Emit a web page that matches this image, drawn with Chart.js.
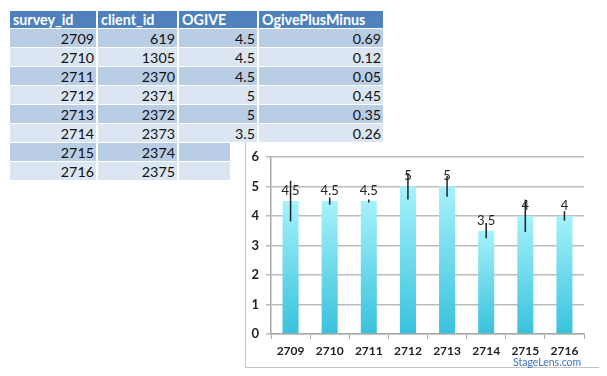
<!DOCTYPE html>
<html>
<head>
<meta charset="utf-8">
<script src="https://cdn.jsdelivr.net/npm/chart.js@4"></script>
<style>
  body { margin: 0; width: 607px; height: 376px; background: #fff; position: relative; overflow: hidden; font-family: Lato, "Open Sans", sans-serif; }
  #tbl { position: absolute; left: 8px; top: 10.4px; border-collapse: separate; border-spacing: 2px 1.6px; font-size: 14.3px; table-layout: fixed; width: 377px; }
  #tbl td, #tbl th { box-sizing: border-box; padding: 0 2px 0 3px; height: 17px; line-height: 17px; overflow: hidden; white-space: nowrap; }
  #tbl td { height: 17px; }
  #tbl th { background: #4f81bd; color: #fff; text-align: left; font-weight: bold; }
  #tbl td { text-align: right; color: #111; }
  #tbl tbody tr { height: 17px; }
  #tbl tbody td { height: 17px; padding-top: 0.5px; padding-bottom: 0.5px; }
  #tbl tr.d td { background: #b9cde5; }
  #tbl tr.l td { background: #dce6f2; }
  #box { position: absolute; left: 230px; top: 142px; width: 377px; height: 234px; background: #fff; }
  #frame { position: absolute; left: 15px; top: 0; width: 353px; height: 225px; border-left: 1px solid #c4c4c4; border-bottom: 1px solid #c4c4c4; }
  #cv { position: absolute; left: 0; top: 0; }
  #brand { position: absolute; left: 283px; top: 214px; font-size: 10.5px; color: #3f72c8; }
  #frag { position: absolute; left: 385px; top: -23px; font-size: 22px; line-height: 24px; color: #000; }
</style>
</head>
<body>
<div id="frag">(</div>
<table id="tbl">
  <thead><tr><th style="width:86px">survey_id</th><th style="width:79px">client_id</th><th style="width:78px">OGIVE</th><th style="width:124px">OgivePlusMinus</th></tr></thead>
  <tbody id="tb"></tbody>
</table>
<div id="box">
  <div id="frame"></div>
  <canvas id="cv" width="377" height="234"></canvas>
  <div id="brand">StageLens.com</div>
</div>
<script>
var surveyIds = ["2709", "2710", "2711", "2712", "2713", "2714", "2715", "2716"];
var clientIds = [619, 1305, 2370, 2371, 2372, 2373, 2374, 2375];
var ogive = [4.5, 4.5, 4.5, 5, 5, 3.5, 4, 4];
var plusMinus = [0.69, 0.12, 0.05, 0.45, 0.35, 0.26, 0.55, 0.16];
var tableOgive = ["4.5", "4.5", "4.5", "5", "5", "3.5", "", ""];
var tablePlusMinus = ["0.69", "0.12", "0.05", "0.45", "0.35", "0.26", "", ""];
var yTicks = [0, 1, 2, 3, 4, 5, 6];

// table
var tb = document.getElementById("tb");
for (var i = 0; i < surveyIds.length; i++) {
  var tr = document.createElement("tr");
  tr.className = (i % 2 == 0) ? "d" : "l";
  tr.innerHTML = "<td>" + surveyIds[i] + "</td><td>" + clientIds[i] + "</td><td>" +
    tableOgive[i] + "</td><td>" + tablePlusMinus[i] + "</td>";
  tb.appendChild(tr);
}

var errBars = {
  id: "errBars",
  afterDatasetsDraw: function (chart) {
    var ctx = chart.ctx;
    var y = chart.scales.y;
    var meta = chart.getDatasetMeta(0);
    ctx.save();
    ctx.font = "13px Lato, sans-serif";
    ctx.fillStyle = "#222";
    ctx.textAlign = "center";
    ctx.textBaseline = "alphabetic";
    meta.data.forEach(function (bar, i) {
      ctx.fillText(String(ogive[i]), bar.x, y.getPixelForValue(ogive[i]) - 6);
    });
    ctx.strokeStyle = "#222";
    ctx.lineWidth = 1.5;
    meta.data.forEach(function (bar, i) {
      ctx.beginPath();
      ctx.moveTo(bar.x, y.getPixelForValue(ogive[i] + plusMinus[i]));
      ctx.lineTo(bar.x, y.getPixelForValue(ogive[i] - plusMinus[i]));
      ctx.stroke();
    });
    ctx.restore();
  }
};

function barFill(context) {
  var chart = context.chart;
  var y = chart.scales.y;
  if (!chart.chartArea || !y) return "#6fd9ec";
  var v = ogive[context.dataIndex];
  var g = chart.ctx.createLinearGradient(0, y.getPixelForValue(v), 0, y.getPixelForValue(0));
  g.addColorStop(0, "#a6f2fb");
  g.addColorStop(1, "#38c2dc");
  return g;
}

new Chart(document.getElementById("cv"), {
  type: "bar",
  data: {
    labels: surveyIds,
    datasets: [{
      label: "OGIVE",
      data: ogive,
      backgroundColor: barFill,
      borderWidth: 0,
      barPercentage: 0.41,
      categoryPercentage: 1
    }]
  },
  options: {
    responsive: false,
    animation: false,
    layout: { padding: { left: 0, right: 23, top: 14, bottom: 0 } },
    plugins: { legend: { display: false }, tooltip: { enabled: false } },
    scales: {
      x: {
        grid: { offset: true, drawOnChartArea: false, drawTicks: true, tickLength: 5, color: "#aaaaaa" },
        border: { color: "#aaaaaa", width: 1.5 },
        ticks: { color: "#222", font: { family: "Lato", size: 12, weight: "bold" }, padding: 5 },
        afterFit: function (s) { s.height = 42; }
      },
      y: {
        min: 0,
        max: 6,
        afterBuildTicks: function (s) { s.ticks = yTicks.map(function (v) { return { value: v }; }); },
        grid: { color: "#bbbbbb", lineWidth: 1.5, tickLength: 5 },
        border: { color: "#aaaaaa", width: 1.5 },
        ticks: { color: "#222", font: { family: "Lato", size: 13, weight: "bold" }, padding: 7 },
        afterFit: function (s) { s.width = 41; }
      }
    }
  },
  plugins: [errBars]
});
</script>
</body>
</html>
